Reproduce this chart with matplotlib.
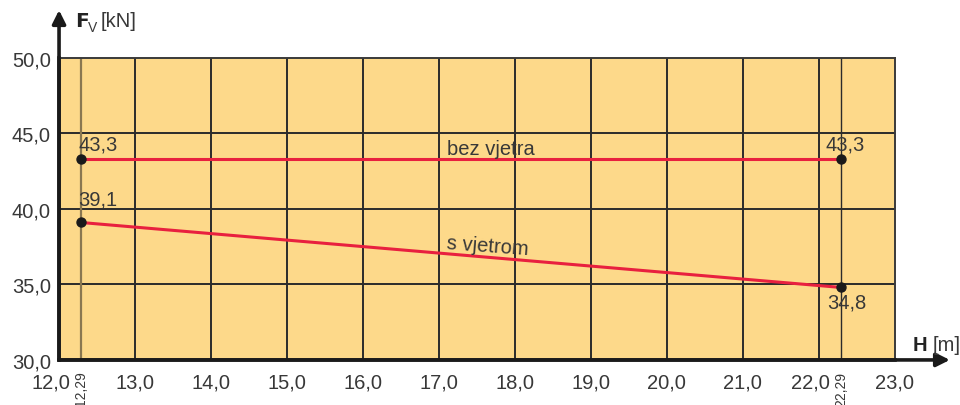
import numpy as np
import matplotlib.pyplot as plt
import matplotlib.transforms as mtransforms

plt.rcParams['font.family'] = ['Liberation Sans', 'DejaVu Sans']

# data
h_points = [12.29, 22.29]
fv_bez_vjetra = [43.3, 43.3]
fv_s_vjetrom = [39.1, 34.8]
x_ticks = [12.0, 13.0, 14.0, 15.0, 16.0, 17.0, 18.0, 19.0, 20.0, 21.0, 22.0, 23.0]
y_ticks = [30.0, 35.0, 40.0, 45.0, 50.0]

red = '#e8203f'
fill = '#fdd98a'
grid_c = '#2b2b2b'
txt_c = '#383838'

fig = plt.figure(figsize=(9.6, 4.06), dpi=100)
ax = fig.add_axes([0.0615, 0.111, 0.8705, 0.744])
ax.set_xlim(12.0, 23.0)
ax.set_ylim(30.0, 50.0)
ax.set_facecolor(fill)

# grid
for x in x_ticks[1:-1]:
    ax.axvline(x, color=grid_c, lw=1.4, zorder=1)
for y in y_ticks[1:-1]:
    ax.axhline(y, color=grid_c, lw=1.4, zorder=1)
ax.axvline(h_points[0], color='#8a7750', lw=1.6, zorder=1)
ax.axvline(h_points[1], color=grid_c, lw=1.0, zorder=1)

# lines
ax.plot(h_points, fv_bez_vjetra, color=red, lw=2.2, zorder=3)
ax.plot(h_points, fv_s_vjetrom, color=red, lw=2.2, zorder=3)
ax.scatter(h_points * 2, fv_bez_vjetra + fv_s_vjetrom, s=42, color='#1a1a1a', zorder=4)

# value labels
fs = 14.5
ax.text(h_points[0] - 0.04, fv_bez_vjetra[0] + 0.35, '43,3', fontsize=fs, color=txt_c, ha='left', va='bottom')
ax.text(h_points[1] - 0.2, fv_bez_vjetra[1] + 0.4, '43,3', fontsize=fs, color=txt_c, ha='left', va='bottom')
ax.text(h_points[0] - 0.04, fv_s_vjetrom[0] + 0.95, '39,1', fontsize=fs, color=txt_c, ha='left', va='bottom')
ax.text(h_points[1] - 0.18, fv_s_vjetrom[1] - 0.35, '34,8', fontsize=fs, color=txt_c, ha='left', va='top')
ax.text(17.68, 43.35, 'bez vjetra', fontsize=fs, color=txt_c, ha='center', va='bottom')
ax.text(17.63, 36.95, 's vjetrom', fontsize=fs, color=txt_c, ha='center', va='bottom', rotation=-4.3,
        rotation_mode='anchor')

# spines
for side in ['top', 'right']:
    ax.spines[side].set_color('#3a3a3a')
    ax.spines[side].set_linewidth(1.4)
for side in ['left', 'bottom']:
    ax.spines[side].set_linewidth(2.6)
    ax.spines[side].set_color('#1a1a1a')

ax.set_xticks(x_ticks)
ax.set_xticklabels([f'{v:.1f}'.replace('.', ',') for v in x_ticks])
ax.set_yticks(y_ticks)
ax.set_yticklabels([f'{v:.1f}'.replace('.', ',') for v in y_ticks])
ax.tick_params(length=0, labelsize=fs, colors=txt_c)
ax.tick_params(axis='x', pad=9)
ax.tick_params(axis='y', pad=6)
# 12,0 and 22,0 are nudged left to make room for the rotated labels
for lab in ax.get_xticklabels():
    if lab.get_text() in ('12,0', '22,0'):
        lab.set_horizontalalignment('right')
        lab.set_transform(lab.get_transform() + mtransforms.ScaledTranslation(0.11, 0, fig.dpi_scale_trans))

# rotated labels for 12.29 and 22.29
for h in h_points:
    ax.text(h, 29.3, f'{h:.2f}'.replace('.', ','), rotation=90, fontsize=10, color=txt_c,
            ha='center', va='top', clip_on=False)

# arrows
ax.annotate('', xy=(0, 1.158), xytext=(0, 0), xycoords='axes fraction',
            arrowprops=dict(arrowstyle='-|>', color='#1a1a1a', lw=2.6, mutation_scale=20,
                            shrinkA=0, shrinkB=0))
ax.annotate('', xy=(1.066, 0), xytext=(0, 0), xycoords='axes fraction',
            arrowprops=dict(arrowstyle='-|>', color='#1a1a1a', lw=2.6, mutation_scale=20,
                            shrinkA=0, shrinkB=0))

# axis titles
fig.text(0.0785, 0.947, r'$\mathbf{F}$', fontsize=fs, color='#222222', va='center')
fig.text(0.0915, 0.932, 'V', fontsize=10, color=txt_c, va='center')
fig.text(0.1045, 0.947, '[kN]', fontsize=fs, color=txt_c, va='center')
fig.text(0.951, 0.148, 'H', fontsize=fs, color='#222222', weight='bold', va='center')
fig.text(0.971, 0.148, '[m]', fontsize=fs, color=txt_c, va='center')

fig.savefig('out.png', dpi=100)
